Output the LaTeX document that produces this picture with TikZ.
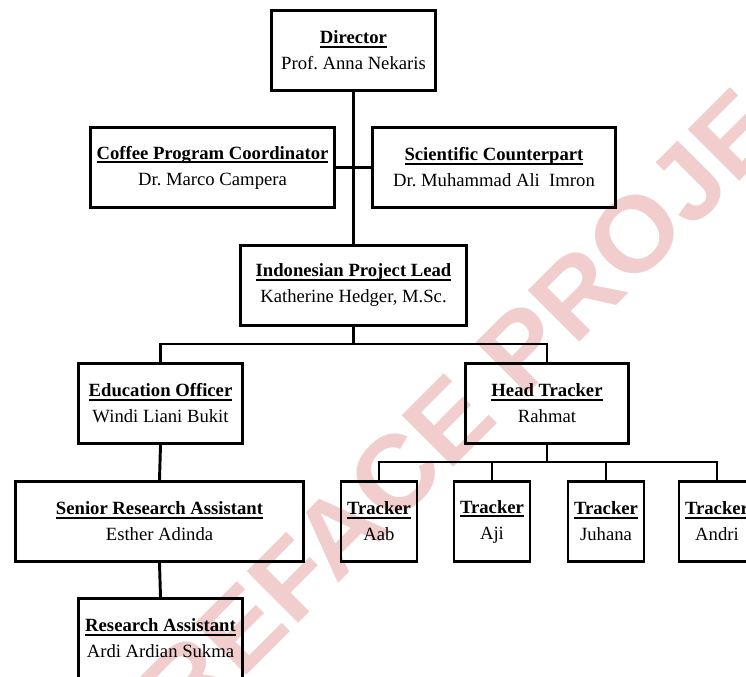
\documentclass[tikz,border=0pt]{standalone}
\usepackage{fontspec}
\setmainfont{Liberation Serif}
\newfontfamily\markfont{Liberation Sans}
\usetikzlibrary{calc}
\frenchspacing

\tikzset{every picture/.style={line width=0.75pt}}
\tikzset{
  orgbox/.style={draw, line width=2.2pt, align=center, inner sep=2pt,
    minimum height=60pt, font=\fontsize{14}{19.5}\selectfont},
  orgline/.style={line width=2.2pt},
}
\newcommand{\role}[1]{\setbox0\hbox{\textbf{#1}}\rlap{\vrule width\wd0 height -1.5pt depth 2.8pt}\box0}
\definecolor{markpink}{RGB}{242,205,205}

\begin{document}
\begin{tikzpicture}[x=0.75pt,y=0.75pt,yscale=-1,xscale=1]
\useasboundingbox (0,0) rectangle (746,676);

% Watermark
\node (mark) [text=markpink, rotate=45, xscale=1.04, font=\markfont\bfseries\fontsize{79.5}{79.5}\selectfont] at (486,384) {PREFACE PROJECT};

% Text Node
\node (dir) [orgbox, minimum width=123pt] at (353.5,50.5) {\role{Director}\\Prof. Anna Nekaris};
% Text Node
\node (coffee) [orgbox, minimum width=183pt] at (212.5,167.5) {\role{Coffee Program Coordinator}\\Dr. Marco Campera};
% Text Node
\node (sci) [orgbox, minimum width=182pt] at (494,167.5) {\role{Scientific Counterpart}\\Dr. Muhammad Ali~ Imron};
% Text Node
\node (ipl) [orgbox, minimum width=170pt] at (353.5,285.5) {\role{Indonesian Project Lead}\\Katherine Hedger, M.Sc.};
% Text Node
\node (edu) [orgbox, minimum width=123pt] at (160.5,403.5) {\role{Education Officer}\\Windi Liani Bukit};
% Text Node
\node (head) [orgbox, minimum width=122pt] at (547,403.5) {\role{Head Tracker}\\Rahmat};
% Text Node
\node (senior) [orgbox, minimum width=216pt] at (159.5,521.5) {\role{Senior Research Assistant}\\Esther Adinda};
% Text Node
\node (assist) [orgbox, minimum width=123pt] at (160.5,638.5) {\role{Research Assistant}\\Ardi Ardian Sukma};
% Text Node
\node (trA) [orgbox, minimum width=57pt, inner sep=0pt] at (379,521.5) {\role{Tracker}\\Aab};
\node (trB) [orgbox, minimum width=57pt, inner sep=0pt] at (492,521.5) {\role{Tracker}\\Aji};
\node (trC) [orgbox, minimum width=57pt, inner sep=0pt] at (606,521.5) {\role{Tracker}\\Juhana};
\node (trD) [orgbox, minimum width=57pt, inner sep=0pt] at (717,521.5) {\role{Tracker}\\Andri};

%Straight Lines
\draw [orgline] (dir.south) -- (ipl.north);
\draw [orgline] (coffee.east) -- (sci.west);
\coordinate (splitA) at ($(ipl.south)+(0,17)$);
\draw [orgline] (ipl.south) -- (splitA);
\draw [orgline] (edu.north) |- (splitA) -| (head.north);
\draw [orgline] (edu.south) -- (senior.north);
\draw [orgline] (senior.south) -- (assist.north);
\coordinate (splitB) at ($(head.south)+(0,17)$);
\draw [orgline] (head.south) -- (splitB);
\draw [orgline] (trA.north) |- (splitB) -| (trD.north);
\draw [orgline] (trB.north) -- (trB.north |- splitB);
\draw [orgline] (trC.north) -- (trC.north |- splitB);

\end{tikzpicture}
\end{document}
